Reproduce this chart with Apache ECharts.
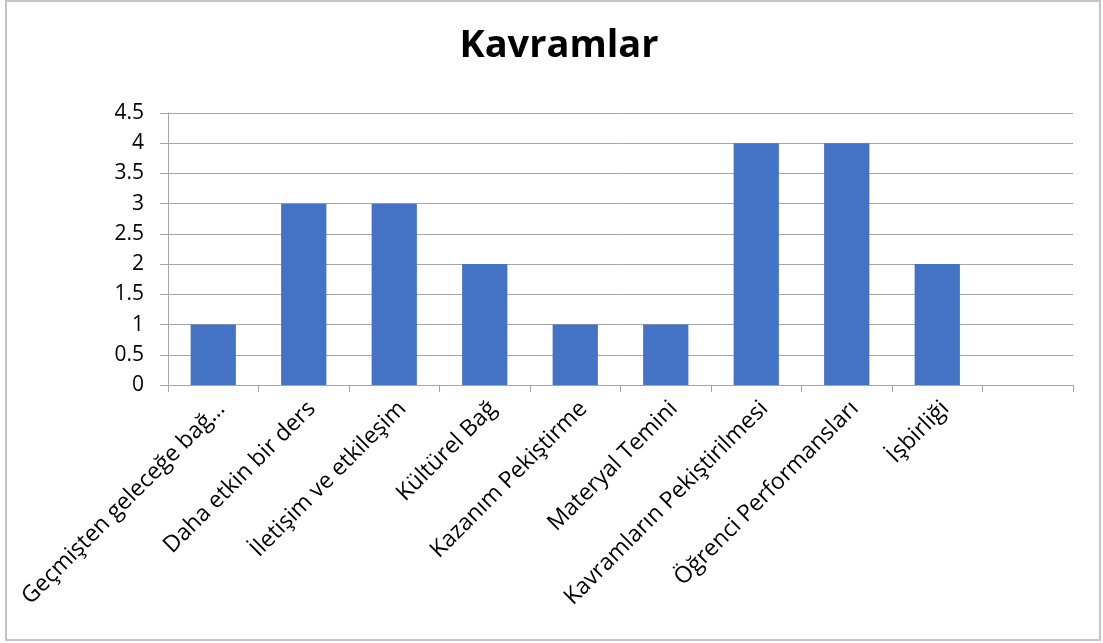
<!DOCTYPE html>
<html>
    <head>
        <title>Kavramlar</title>
        <meta charset="UTF-8">
        <style>
            html, body { margin: 0; padding: 0; background: #ffffff; }
            #chart { width: 1103px; height: 643px; }
        </style>
        <script src="https://cdn.jsdelivr.net/npm/echarts@6/dist/echarts.min.js"></script>
    </head>
    <body>
        <div id="chart"></div>
    </body>
    <script>
        // veriler
        var titleText = 'Kavramlar';
        var categories = [
            'Geçmişten geleceğe bağ…',
            'Daha etkin bir ders',
            'İletişim ve etkileşim',
            'Kültürel Bağ',
            'Kazanım Pekiştirme',
            'Materyal Temini',
            'Kavramların Pekiştirilmesi',
            'Öğrenci Performansları',
            'İşbirliği',
            ''
        ];
        var values = [1, 3, 3, 2, 1, 1, 4, 4, 2, null];
        var yMin = 0, yMax = 4.5, yStep = 0.5;

        var font = 'Open Sans';

        var chart = echarts.init(document.getElementById('chart'));
        chart.setOption({
            animation: false,
            title: {
                text: titleText,
                left: 554,
                top: 22,
                textAlign: 'center',
                textStyle: { fontFamily: font, fontWeight: 'bold', fontSize: 38, color: '#000' }
            },
            graphic: [{
                type: 'rect',
                shape: { x: 6, y: 1, width: 1094, height: 639 },
                style: { fill: 'none', stroke: '#c4c4c4', lineWidth: 2 },
                silent: true
            }],
            grid: { left: 168, right: 30, top: 113, bottom: 258 },
            xAxis: {
                type: 'category',
                data: categories,
                boundaryGap: true,
                axisLine: { lineStyle: { color: '#a6a6a6', width: 1 } },
                axisTick: { show: true, alignWithLabel: false, length: 7, lineStyle: { color: '#a6a6a6' } },
                axisLabel: {
                    interval: 0,
                    rotate: 45,
                    margin: 12,
                    verticalAlign: 'top',
                    fontFamily: font,
                    fontSize: 23,
                    color: '#000'
                }
            },
            yAxis: {
                type: 'value',
                min: yMin,
                max: yMax,
                interval: yStep,
                axisLine: { show: true, lineStyle: { color: '#a6a6a6', width: 1 } },
                axisTick: { show: true, inside: false, length: 8, lineStyle: { color: '#a6a6a6' } },
                splitLine: { lineStyle: { color: '#a6a6a6', width: 1 } },
                axisLabel: {
                    margin: 24,
                    fontFamily: font,
                    fontSize: 21,
                    color: '#000'
                }
            },
            series: [{
                type: 'bar',
                data: values,
                barWidth: '50%',
                itemStyle: { color: '#4472c4' }
            }]
        });
    </script>
</html>
